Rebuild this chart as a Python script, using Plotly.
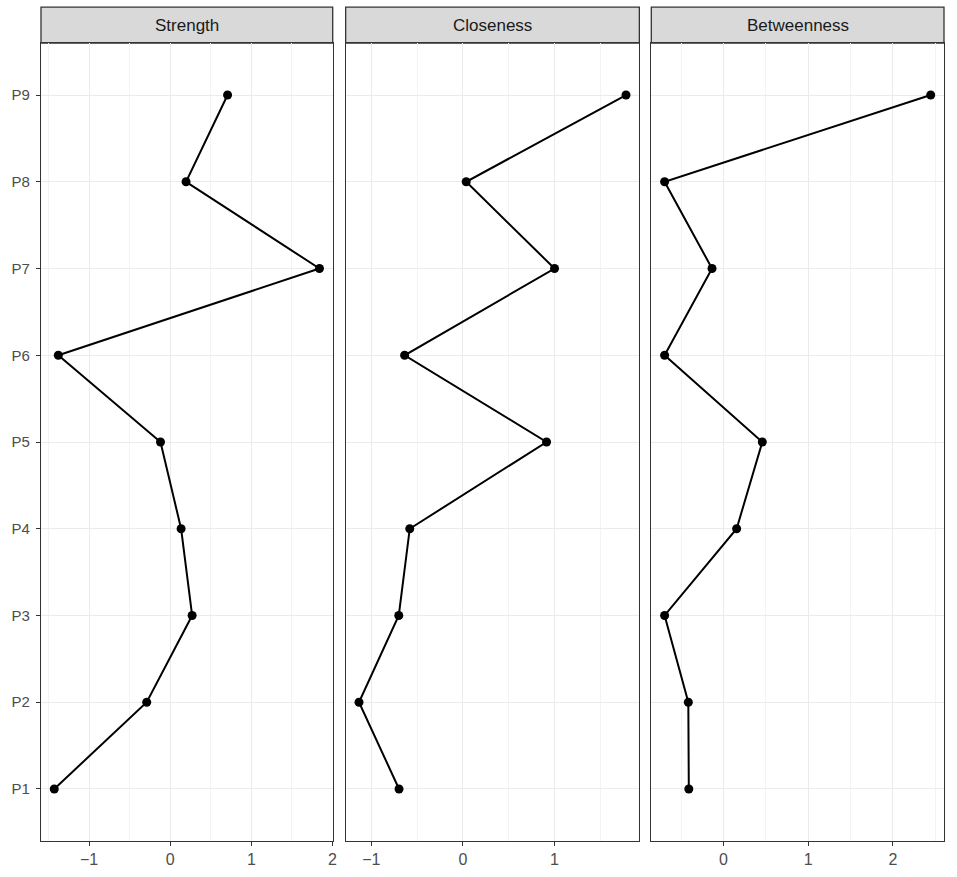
import plotly.graph_objects as go

nodes = ["P1", "P2", "P3", "P4", "P5", "P6", "P7", "P8", "P9"]
measures = ["Strength", "Closeness", "Betweenness"]
strength = [-1.43, -0.29, 0.27, 0.134, -0.12, -1.38, 1.84, 0.195, 0.707]
closeness = [-0.697, -1.134, -0.70, -0.58, 0.913, -0.636, 1.0, 0.036, 1.78]
betweenness = [-0.41, -0.416, -0.696, 0.155, 0.458, -0.696, -0.136, -0.696, 2.447]
values = [strength, closeness, betweenness]

W, H = 957, 877
L, R, T, B = 41, 948, 43, 845
panels_px = [(41, 334), (347, 642), (654, 948)]
FONT = "Liberation Sans, Arial, Helvetica, sans-serif"

def dom(a, b):
    return [(a - L) / (R - L), (b - L) / (R - L)]

fig = go.Figure()
shapes = []
annotations = []
layout = {}
for i, (name, vals) in enumerate(zip(measures, values)):
    xs = "x" if i == 0 else f"x{i+1}"
    ys = "y" if i == 0 else f"y{i+1}"
    fig.add_trace(go.Scatter(
        x=vals, y=nodes, mode="lines+markers", xaxis=xs, yaxis=ys,
        line=dict(color="black", width=2),
        marker=dict(color="black", size=9),
        showlegend=False, hoverinfo="x+y"))
    lo, hi = min(vals), max(vals)
    pad = 0.05 * (hi - lo)
    d = dom(*panels_px[i])
    xkey = "xaxis" if i == 0 else f"xaxis{i+1}"
    ykey = "yaxis" if i == 0 else f"yaxis{i+1}"
    layout[xkey] = dict(
        domain=d, anchor=ys, range=[lo - pad, hi + pad],
        dtick=1, tick0=0, showgrid=True, gridcolor="#EBEBEB", gridwidth=1.3,
        minor=dict(dtick=0.5, tick0=0, showgrid=True, gridcolor="#F3F3F3", gridwidth=0.8),
        zeroline=False, showline=True, mirror=True, linecolor="#333333", linewidth=1.3,
        ticks="outside", ticklen=4, tickcolor="#333333", tickwidth=1.2,
        tickfont=dict(family=FONT, size=16, color="#4D4D4D"),
        fixedrange=True)
    layout[ykey] = dict(
        anchor=xs, domain=[0, 1], categoryorder="array", categoryarray=nodes,
        range=[-0.6, 8.6], showgrid=True, gridcolor="#EBEBEB", gridwidth=1.3,
        zeroline=False, showline=True, mirror=True, linecolor="#333333", linewidth=1.3,
        ticks="outside" if i == 0 else "", ticklen=4, tickcolor="#333333", tickwidth=1.2,
        showticklabels=(i == 0), ticklabelstandoff=3,
        tickfont=dict(family=FONT, size=15, color="#4D4D4D"),
        fixedrange=True)
    if i > 0:
        layout[ykey]["matches"] = "y"
    y0 = 1.0
    y1 = 1.0 + 36 / (B - T)
    shapes.append(dict(type="rect", xref="paper", yref="paper", x0=d[0], x1=d[1],
                       y0=y0, y1=y1, fillcolor="#D9D9D9",
                       line=dict(color="#333333", width=1.3), layer="below"))
    annotations.append(dict(xref="paper", yref="paper", x=(d[0] + d[1]) / 2,
                            y=(y0 + y1) / 2, text=name, showarrow=False,
                            xanchor="center", yanchor="middle",
                            font=dict(family=FONT, size=17, color="#1A1A1A")))

fig.update_layout(
    width=W, height=H,
    margin=dict(l=L, r=W - R, t=T, b=H - B, pad=0),
    paper_bgcolor="white", plot_bgcolor="white",
    shapes=shapes, annotations=annotations, **layout)

fig.write_html("out.html", config={"displayModeBar": False},
               post_script="document.body.style.margin='0';document.body.style.overflow='hidden';")
